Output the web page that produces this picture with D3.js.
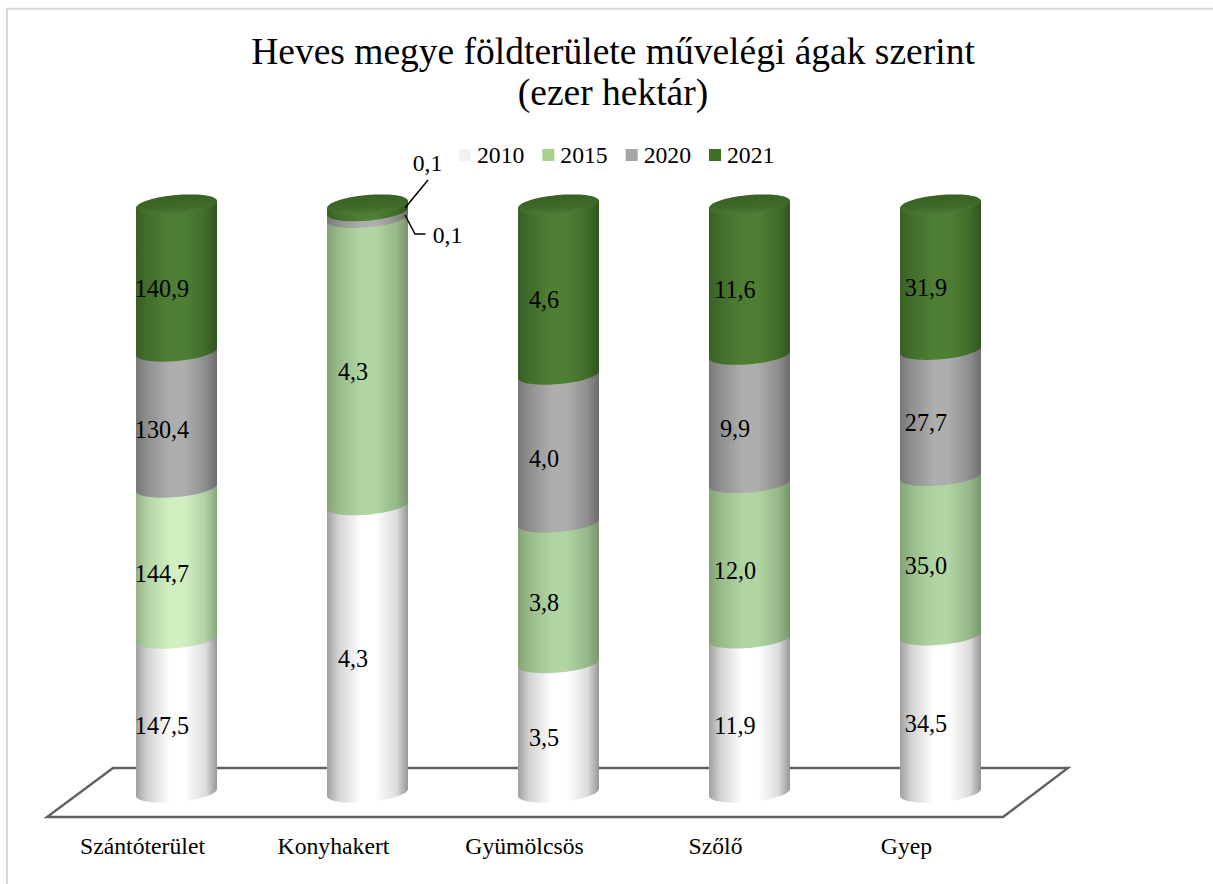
<!DOCTYPE html>
<html><head><meta charset="utf-8">
<script src="https://cdn.jsdelivr.net/npm/d3@7"></script>
<style>html,body{margin:0;padding:0;background:#fff}svg{display:block}text{font-family:"Liberation Serif",serif;fill:#000}</style>
</head><body><div id="c"></div>
<script>
const categories=["Szántóterület","Konyhakert","Gyümölcsös","Szőlő","Gyep"];
const years=["2010","2015","2020","2021"];
const v2010=[147.5,4.3,3.5,11.9,34.5];
const v2015=[144.7,4.3,3.8,12.0,35.0];
const v2020=[130.4,0.1,4.0,9.9,27.7];
const v2021=[140.9,0.1,4.6,11.6,31.9];
const seriesValues=[v2010,v2015,v2020,v2021];
const titleLines=["Heves megye földterülete művelégi ágak szerint","(ezer hektár)"];
const swatch=["#f2f2f2","#a9d18e","#a5a5a5","#3f6f24"];

const W=1213,H=884;
const svg=d3.select("#c").append("svg").attr("width",W).attr("height",H);
const defs=svg.append("defs");
function grad(id,edgeL,soft,mid,softR,edgeR){
  const g=defs.append("linearGradient").attr("id",id).attr("x1",0).attr("x2",1).attr("y1",0).attr("y2",0);
  [[0,edgeL],[.14,soft],[.42,mid],[.6,mid],[.86,softR],[1,edgeR]].forEach(s=>g.append("stop").attr("offset",s[0]).attr("stop-color",s[1]));
}
grad("g0","#a0a0a0","#d2d2d2","#ffffff","#dcdcdc","#969696");
grad("g1","#85a276","#98bb8a","#b0d5a2","#96b789","#79946c");
grad("g1b","#93b086","#b3d2a4","#d2efc2","#b3d0a5","#88a67b");
grad("g2","#777777","#8f8f8f","#aeaeae","#8d8d8d","#6c6c6c");
grad("g3","#3a6024","#436d2b","#4f7f34","#416b2a","#325420");
const tg=defs.append("linearGradient").attr("id","gt").attr("x1",0).attr("x2",.25).attr("y1",0).attr("y2",1);
[[0,"#3a5e25"],[.7,"#3f6a28"],[1,"#4c7a35"]].forEach(s=>tg.append("stop").attr("offset",s[0]).attr("stop-color",s[1]));

// frame: only the left and top edges fall inside the picture
svg.append("path").attr("d",d3.line()([[7,H],[7,8.7],[W,8.7]]))
  .attr("fill","none").attr("stroke","#d9d9d9").attr("stroke-width",2);

svg.append("g").selectAll("text").data(titleLines).join("text")
  .attr("x",613).attr("y",(d,i)=>64+i*41).attr("text-anchor","middle")
  .style("font-size","37.5px").text(d=>d);

const x=d3.scaleBand().domain(categories).range([81,1036]);
const y=d3.scaleLinear().domain([0,1]).range([792.5,204.5]);
const R=40.5,S=3.5,B=9.5;
const totals=categories.map((c,i)=>d3.sum(seriesValues,s=>s[i]));

// floor
const line=d3.line();
svg.append("path").attr("d",line([[47,817],[1003,817],[1068,768],[113,768]])+"Z")
  .attr("fill","#fff").attr("stroke","#616161").attr("stroke-width",2.4);

function pt(cx,yc,t){return [cx+R*Math.cos(t),yc+B*Math.sin(t)-S*Math.cos(t)];}
function side(cx,y0,y1){
  const front=d3.range(0,41).map(i=>pt(cx,y0,Math.PI-i/40*Math.PI));
  return line([[cx-R,y1+S],...front,[cx+R,y1-S]])+"Z";
}
function ell(cx,yc){return line(d3.range(0,80).map(i=>pt(cx,yc,i/80*2*Math.PI)))+"Z";}
const fmt=v=>v.toFixed(1).replace(".",",");

const bars=svg.append("g");
const labels=svg.append("g");
categories.forEach((c,i)=>{
  const cx=x(c)+x.bandwidth()/2;
  let acc=0;
  seriesValues.forEach((s,j)=>{
    const a=acc/totals[i],b=(acc+s[i])/totals[i];acc+=s[i];
    const id=(j===1&&i===0)?"g1b":"g"+j;
    bars.append("path").attr("d",side(cx,y(a),y(b))).attr("fill",`url(#${id})`);
    if(s[i]>0.5){
      labels.append("text").attr("x",cx-14.5).attr("y",(y(a)+y(b))/2+B+9)
        .attr("text-anchor","middle").style("font-size","24.2px").text(fmt(s[i]));
    }
  });
  bars.append("path").attr("d",ell(cx,y(1))).attr("fill","url(#gt)");
});

// small-value labels with leader lines (Konyhakert)
const kcx=x("Konyhakert")+x.bandwidth()/2;
const ltop=y(1);
svg.append("path").attr("fill","none").attr("stroke","#000").attr("stroke-width",1.5)
  .attr("d",line([[kcx+37.5,ltop+3.5],[kcx+60.5,ltop-24.5]]));
svg.append("path").attr("fill","none").attr("stroke","#000").attr("stroke-width",1.5)
  .attr("d",line([[kcx+37.5,ltop+10.5],[kcx+47.5,ltop+29.5],[kcx+58,ltop+29.5]]));
svg.append("text").attr("x",kcx+60).attr("y",ltop-33.5).attr("text-anchor","middle").style("font-size","23.7px")
  .text(fmt(v2021[1]));
svg.append("text").attr("x",kcx+80).attr("y",ltop+38.5).attr("text-anchor","middle").style("font-size","23.7px")
  .text(fmt(v2020[1]));

// category labels
svg.append("g").selectAll("text").data(categories).join("text")
  .attr("x",d=>x(d)+x.bandwidth()/2-34).attr("y",854).attr("text-anchor","middle")
  .style("font-size","23.7px").text(d=>d);

// legend
const lx=d3.scalePoint().domain(years).range([459,709]);
const lg=svg.append("g").selectAll("g").data(years).join("g").attr("transform",d=>`translate(${lx(d)},0)`);
lg.append("rect").attr("y",149).attr("width",12).attr("height",12).attr("fill",(d,i)=>swatch[i]);
lg.append("text").attr("x",18).attr("y",163).style("font-size","23.7px").text(d=>d);
</script></body></html>
